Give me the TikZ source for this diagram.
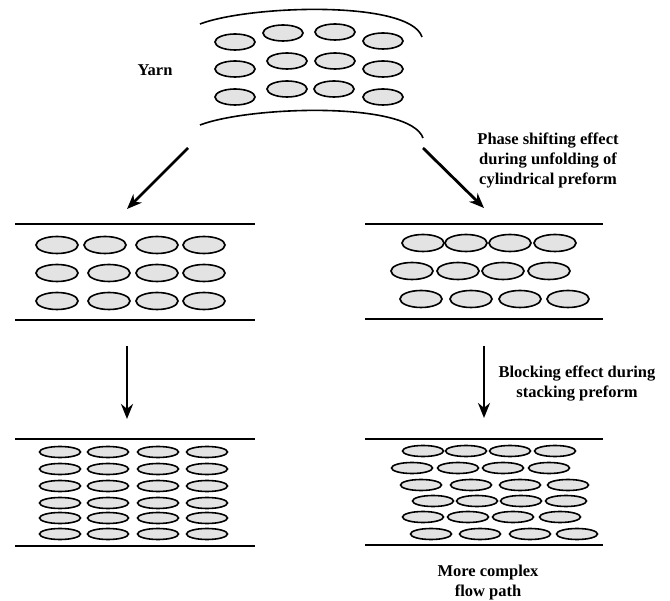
\documentclass[tikz,border=0pt]{standalone}
\usepackage{fontspec}
\setmainfont{Liberation Serif}
\usetikzlibrary{arrows.meta}

\begin{document}
\begin{tikzpicture}[x=1pt,y=-1pt,
  fibre/.style={draw=black, fill=gray!22, line width=1.6pt},
  layer/.style={line width=1.6pt},
  flow/.style={line width=2.8pt, -{Stealth[length=15pt,width=12pt]}},
  note/.style={font=\bfseries\fontsize{16.5}{20}\selectfont, align=center}]
  \useasboundingbox (0,0) rectangle (670,601);
  % yarn bundle
  \draw[layer] (200,24) .. controls (250,5) and (410,0) .. (422,37);
  \draw[layer] (200,125) .. controls (250,106) and (410,101) .. (423,138);
  \foreach \x/\y in {235/42,283/33,335/32,383/41,
                     235/69,287/61,335/61,383/69,
                     235/97,287/89,334/89,383/97}
    \filldraw[fibre] (\x,\y) ellipse (20pt and 8pt);
  \node[note] (yarn) at (155,70) {Yarn};
  % plain unfolding
  \draw[layer] (15,224) -- (255,224);
  \draw[layer] (15,320) -- (255,320);
  \foreach \x/\y in {57/245,105/245,157/245,204/245,
                     57/273,109/273,157/273,204/273,
                     57/301,109/301,157/301,204/301}
    \filldraw[fibre] (\x,\y) ellipse (21pt and 8.5pt);
  % phase shifted unfolding
  \draw[layer] (365,224) -- (603,224);
  \draw[layer] (365,319) -- (603,319);
  \foreach \x/\y in {423/243,466/243,510/243,555/243,
                     412/271,458/271,503/271,549/271,
                     421/299,471/299,520/299,568/299}
    \filldraw[fibre] (\x,\y) ellipse (21pt and 8.5pt);
  \node[note] (phase) at (548,160) {Phase shifting effect\\during unfolding of\\cylindrical preform};
  % stacked, nested
  \draw[layer] (15,439) -- (255,439);
  \draw[layer] (15,546) -- (255,546);
  \foreach \y in {452,469,486,503,518,534}
    \foreach \x in {60,108,158,207}
      \filldraw[fibre] (\x,\y) ellipse (20.5pt and 5.5pt);
  % stacked, blocked
  \draw[layer] (365,439) -- (603,439);
  \draw[layer] (365,545) -- (603,545);
  \foreach \x/\y in {423/451,466/451,510/451,555/451,
                     412/468,458/468,503/468,549/468,
                     421/485,471/485,520/485,568/485,
                     433/501,477/501,521/501,566/501,
                     423/517,468/517,513/517,560/517,
                     431/534,480/534,530/534,577/534}
    \filldraw[fibre] (\x,\y) ellipse (20.5pt and 5.5pt);
  \node[note] (block) at (577,384) {Blocking effect during\\stacking preform};
  \node[note] (complex) at (488,583) {More complex\\flow path};
  % arrows
  \coordinate (bundleL) at (188,148);
  \coordinate (bundleR) at (423,148);
  \coordinate (plainIn) at (127,209);
  \coordinate (shiftIn) at (484,208);
  \coordinate (plainOut) at (127,346);
  \coordinate (shiftOut) at (484,346);
  \coordinate (nestIn) at (127,419);
  \coordinate (blockIn) at (484,418);
  \draw[flow] (bundleL) -- (plainIn);
  \draw[flow] (bundleR) -- (shiftIn);
  \draw[flow] (plainOut) -- (nestIn);
  \draw[flow] (shiftOut) -- (blockIn);
\end{tikzpicture}
\end{document}
